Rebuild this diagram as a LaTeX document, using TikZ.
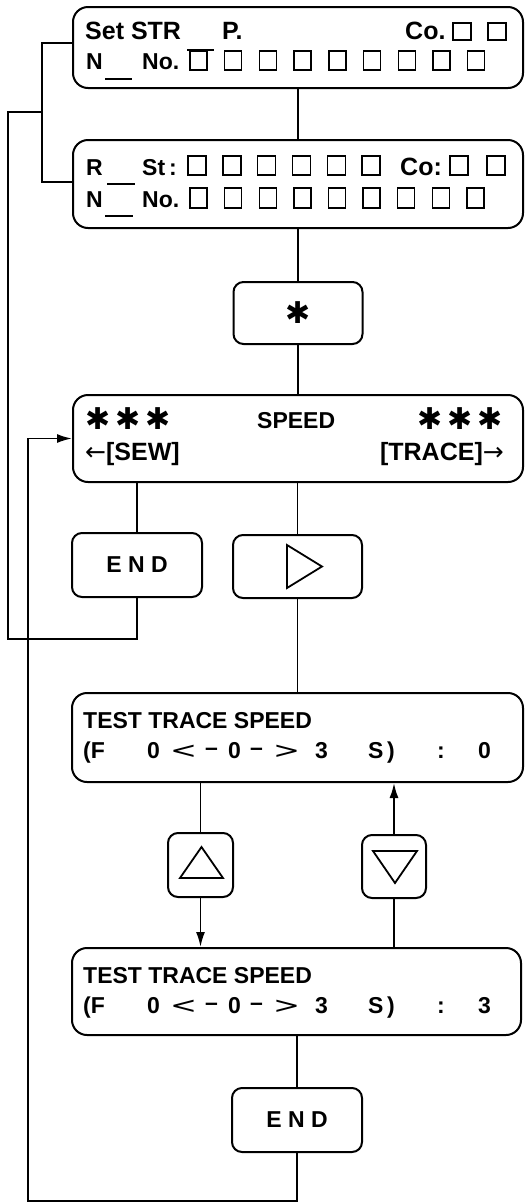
\documentclass[tikz,border=0pt]{standalone}
\usepackage{fontspec}
\setmainfont{Liberation Sans}
\newfontfamily\dejavu{DejaVu Sans}
\usepackage{graphicx}
\usetikzlibrary{arrows.meta,calc}
\begin{document}
\begin{tikzpicture}[x=1pt,y=-1pt,
  bigbox/.style={draw, line width=2pt, rounded corners=15pt, inner sep=0pt},
  smallbox/.style={draw, line width=2pt, rounded corners=10pt, inner sep=0pt,
     font=\fontsize{23}{27}\selectfont\bfseries},
  txt/.style={inner sep=0pt, font=\fontsize{23}{27}\selectfont\bfseries},
  bigtxt/.style={inner sep=0pt, font=\fontsize{25}{29}\selectfont\bfseries},
  conn/.style={line width=1.8pt},
  arr/.style={line width=1.8pt, -{Latex[length=15pt,width=9pt]}},
  sq/.style={line width=1.4pt},
  bar/.style={line width=1.6pt},
  tri/.style={line width=1.8pt, line join=miter},
  star/.style={inner sep=0pt, font=\fontsize{30}{34}\dejavu}]
\useasboundingbox (0,0) rectangle (528,1203);

% ---------- boxes ----------
\node[bigbox, minimum width=450pt, minimum height=81pt] (b1) at (298,47.5) {};
\node[bigbox, minimum width=450pt, minimum height=88pt] (b2) at (298,184) {};
\node[smallbox, minimum width=129pt, minimum height=62pt] (st) at (298,313) {};
\node[bigbox, minimum width=450pt, minimum height=87pt] (speed) at (298,438.5) {};
\node[smallbox, minimum width=130pt, minimum height=64pt] (end1) at (137,565) {E N D};
\node[smallbox, minimum width=129pt, minimum height=63pt] (play) at (297.5,566.5) {};
\node[bigbox, minimum width=451pt, minimum height=89pt] (tts1) at (297.5,737.5) {};
\node[smallbox, minimum width=65pt, minimum height=64pt] (up) at (200.5,865) {};
\node[smallbox, minimum width=64pt, minimum height=63pt] (down) at (394,866.5) {};
\node[bigbox, minimum width=449pt, minimum height=87pt] (tts2) at (296.5,991.5) {};
\node[smallbox, minimum width=130pt, minimum height=64pt] (end2) at (297,1120) {E N D};

% ---------- box 1 text ----------
\node[bigtxt, anchor=base west] (t1a) at (85,39) {Set STR};
\node[bigtxt, anchor=base west] (t1b) at (222,39) {P.};
\node[bigtxt, anchor=base west] (t1c) at (405,39) {Co.};
\draw[sq] (453,23) rectangle ++(18,17);
\draw[sq] (488,23) rectangle ++(18,17);
\node[txt, anchor=base west] (t1d) at (86,69) {N};
\draw[bar] (105,79) -- (132,79);
\node[txt, anchor=base west] (t1e) at (142,69) {No.};
\foreach \i in {0,...,8} \draw[sq] ({190+34.7*\i},51) rectangle ++(17,19);
\draw[bar] (187,50) -- (214,50);

% ---------- box 2 text ----------
\node[txt, anchor=base west] (t2a) at (86,175) {R};
\node[txt, anchor=base west] (t2b) at (142,175) {St\,:};
\foreach \i in {0,...,5} \draw[sq] ({188+34.8*\i},156) rectangle ++(18,19);
\node[bigtxt, anchor=base west] (t2c) at (400,175) {Co:};
\draw[sq] (450,156) rectangle ++(18,19);
\draw[sq] (487,156) rectangle ++(18,19);
\node[txt, anchor=base west] (t2d) at (86,207) {N};
\draw[bar] (107,184) -- (135,184);
\draw[bar] (105,216) -- (133,216);
\node[txt, anchor=base west] (t2e) at (142,207) {No.};
\foreach \i in {0,...,8} \draw[sq] ({190+34.6*\i},188) rectangle ++(17,20);

% ---------- star box ----------
\node[star] (stt) at (st.center) {✱};

% ---------- speed box ----------
\node[star] (s1) at (128,419) {✱\hspace{5pt}✱\hspace{5pt}✱};
\node[star] (s2) at (460,419) {✱\hspace{5pt}✱\hspace{5pt}✱};
\node[txt, anchor=base west] (sp) at (257,428) {SPEED};
\node[bigtxt, anchor=base west] (sew) at (85,460) {{\dejavu\mdseries ←}[SEW]};
\node[bigtxt, anchor=base east] (trc) at (504,460) {[TRACE]{\dejavu\mdseries →}};

% ---------- triangles ----------
\draw[tri] ([shift={(-10.5,-21.5)}]play.center) -- ([shift={(-10.5,21.5)}]play.center) -- ([shift={(24.5,0)}]play.center) -- cycle;
\draw[tri] ([shift={(-20.5,13)}]up.center) -- ([shift={(22.5,13)}]up.center) -- ([shift={(1,-18)}]up.center) -- cycle;
\draw[tri] ([shift={(-21,-15.5)}]down.center) -- ([shift={(23,-15.5)}]down.center) -- ([shift={(1,16.5)}]down.center) -- cycle;

% ---------- test trace speed boxes ----------
\foreach \dy/\v/\nm in {0/0/a, 255/3/b}{
  \begin{scope}[yshift={-\dy pt}]
  \node[txt, anchor=base west] (h\nm) at (83,728) {TEST TRACE SPEED};
  \node[txt, anchor=base west] (p1\nm) at (83,758) {(F};
  \node[txt, anchor=base west] (p2\nm) at (147,758) {0};
  \node[txt, anchor=base west] (p3\nm) at (170,758) {\dejavu\mdseries\scalebox{1.4}[1]{<}};
  \node[txt, anchor=base west] (p4\nm) at (205,758) {\raisebox{3pt}{–}};
  \node[txt, anchor=base west] (p5\nm) at (228,758) {0};
  \node[txt, anchor=base west] (p6\nm) at (250,758) {\raisebox{3pt}{–}};
  \node[txt, anchor=base west] (p7\nm) at (273,758) {\dejavu\mdseries\scalebox{1.4}[1]{>}};
  \node[txt, anchor=base west] (p8\nm) at (315,758) {3};
  \node[txt, anchor=base west] (p9\nm) at (368,758) {S};
  \node[txt, anchor=base west] (p10\nm) at (387,758) {)};
  \node[txt, anchor=base west] (p11\nm) at (437,758) {:};
  \node[txt, anchor=base west] (p12\nm) at (478,758) {\v};
  \end{scope}
}

% ---------- connectors ----------
\draw[conn] (b1.south) -- (b1.south |- b2.north);
\draw[conn] (b2.south) -- (b2.south |- st.north);
\draw[conn] (st.south) -- (st.south |- speed.north);
\draw[conn] (play.north |- speed.south) -- (play.north);
\draw[conn] (end1.north |- speed.south) -- (end1.north);
\draw[conn] (play.south) -- (play.south |- tts1.north);
\draw[conn] (up.north |- tts1.south) -- (up.north);
\draw[arr] (up.south) -- (up.south |- tts2.north);
\draw[conn] (down.south |- tts2.north) -- (down.south);
\draw[arr] (down.north) -- (down.north |- tts1.south);
\draw[conn] (end2.north |- tts2.south) -- (end2.north);

% bracket joining the two top boxes
\coordinate (jt) at (42,43);
\coordinate (jb) at (42,182);
\coordinate (jm) at (42,112);
\draw[conn] (jt -| b1.west) -- (jt) -- (jb) -- (jb -| b2.west);
% return from the first END to the bracket
\coordinate (r1) at (8,639);
\draw[conn] (end1.south) |- (r1) |- (jm);
% return from the second END to SPEED
\coordinate (r2) at (28,1201);
\draw[arr] (end2.south) |- (r2) |- (speed.west);
\end{tikzpicture}
\end{document}
